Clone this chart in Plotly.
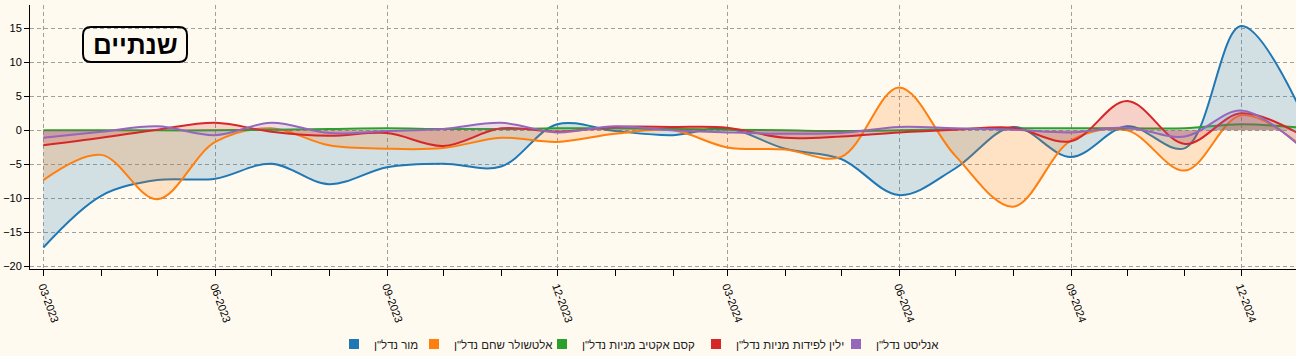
import plotly.graph_objects as go

# ---- data ----
dates = ["2023-03-01", "2023-04-01", "2023-05-01", "2023-06-01", "2023-07-01", "2023-08-01",
         "2023-09-01", "2023-10-01", "2023-11-01", "2023-12-01", "2024-01-01", "2024-02-01",
         "2024-03-01", "2024-04-01", "2024-05-01", "2024-06-01", "2024-07-01", "2024-08-01",
         "2024-09-01", "2024-10-01", "2024-11-01", "2024-12-01", "2025-01-01"]

names = ['מור נדל"ן', 'אלטשולר שחם נדל"ן', 'קסם אקטיב מניות נדל"ן', 'ילין לפידות מניות נדל"ן', 'אנליסט נדל"ן']

mor = [-17.2, -9.6, -7.3, -7.1, -4.9, -7.9, -5.4, -4.9, -5.3, 0.9, -0.1, -0.7,
       0.3, -2.7, -4.2, -9.5, -5.6, 0.5, -3.9, 0.6, -2.6, 15.3, 3.5]
altshuler = [-7.3, -3.6, -10.1, -1.7, 0.3, -2.2, -2.7, -2.6, -1.1, -1.7, -0.5, 0.0,
             -2.5, -2.8, -3.9, 6.3, -3.7, -11.2, -1.5, 0.0, -5.9, 2.2, -2.0]
kesem = [0.0, 0.0, 0.0, 0.0, 0.1, 0.2, 0.3, 0.2, 0.2, 0.3, 0.3, 0.2,
         0.1, 0.0, -0.1, 0.0, 0.2, 0.3, 0.3, 0.3, 0.3, 0.9, 0.4]
yelin = [-2.2, -1.1, 0.1, 1.1, -0.2, -0.8, -0.4, -2.3, 0.3, -0.2, 0.5, 0.5,
         0.4, -1.1, -0.9, -0.3, 0.1, 0.4, -1.6, 4.3, -2.0, 2.5, -0.5]
analyst = [-1.1, -0.2, 0.6, -0.7, 1.1, -0.4, -0.1, 0.2, 1.1, -0.3, 0.6, 0.0,
           -0.3, -0.5, -0.4, 0.5, 0.3, 0.1, -0.3, 0.4, -0.9, 2.9, -2.2]

series = [mor, altshuler, kesem, yelin, analyst]
colors = ["#1f77b4", "#ff7f0e", "#2ca02c", "#d62728", "#9467bd"]
fills = ["rgba(31,119,180,0.2)", "rgba(255,127,14,0.2)", "rgba(44,160,44,0.2)",
         "rgba(214,39,40,0.2)", "rgba(148,103,189,0.2)"]

title_text = "שנתיים"
FONT = "Liberation Sans, Arial, sans-serif"
BG = "#FFFAF0"

W, H = 1296, 356
ML, MR, MT, MB = 30, 0, 5, 87
PW = W - ML - MR
PH = H - MT - MB

fig = go.Figure()
for vals, name, c, fc in zip(series, names, colors, fills):
    fig.add_trace(go.Scatter(
        x=dates, y=vals, mode="lines", name=name,
        line=dict(color=c, width=2, shape="spline", smoothing=1),
        fill="tozeroy", fillcolor=fc, showlegend=False, hoverinfo="skip"))

# legend entries (each in its own legend for exact placement)
legend_square_center = [354, 434, 562, 716, 856]
for i, (name, c) in enumerate(zip(names, colors)):
    key = "legend" if i == 0 else f"legend{i+1}"
    fig.add_trace(go.Scatter(
        x=[None], y=[None], mode="markers", name=name,
        marker=dict(symbol="square", size=10, color=c),
        showlegend=True, legend=key))
    fig.update_layout({key: dict(
        xref="container", yref="container",
        x=(legend_square_center[i] - 20) / W, xanchor="left",
        y=1 - 344 / H, yanchor="middle",
        orientation="h", bgcolor="rgba(0,0,0,0)", borderwidth=0,
        font=dict(family=FONT, size=11.5, color="#222"),
        itemclick=False, itemdoubleclick=False)})

grid = dict(showgrid=True, gridcolor="#a0a0a0", gridwidth=1, griddash="4px,3px")

fig.update_layout(
    width=W, height=H,
    margin=dict(l=ML, r=MR, t=MT, b=MB, pad=0, autoexpand=False),
    paper_bgcolor=BG, plot_bgcolor=BG,
    font=dict(family=FONT, size=11, color="#000"),
    xaxis=dict(
        type="date", range=["2023-02-21 21:00", "2024-12-30 10:00"], automargin=False,
        tick0="2023-03-01", dtick="M3", tickformat="%m-%Y", tickangle=70,
        ticks="outside", ticklen=6, tickcolor="#000",
        minor=dict(dtick="M1", ticks="outside", ticklen=6, tickcolor="#000", showgrid=False),
        showline=True, linecolor="#000", linewidth=1, zeroline=False,
        tickfont=dict(family=FONT, size=11, color="#000"),
        **grid),
    yaxis=dict(
        range=[-20.35, 18.4], tick0=0, dtick=5, automargin=False,
        ticks="outside", ticklen=5, tickcolor="#000",
        showline=True, linecolor="#000", linewidth=1, zeroline=False,
        tickfont=dict(family=FONT, size=11, color="#000"),
        **grid),
    hovermode=False,
)

# title box with rounded corners
fig.add_shape(
    type="path", xref="paper", yref="paper", xsizemode="pixel", ysizemode="pixel",
    xanchor=0, yanchor=1,
    path="M 61,-22 L 149,-22 Q 157,-22 157,-30 L 157,-49 Q 157,-57 149,-57 "
         "L 61,-57 Q 53,-57 53,-49 L 53,-30 Q 53,-22 61,-22 Z",
    line=dict(color="#000", width=2), fillcolor="rgba(0,0,0,0)", layer="above")
fig.add_annotation(
    text=f"<b>{title_text}</b>", xref="paper", yref="paper",
    x=(135 - ML) / PW, y=1 - (44.5 - MT) / PH, xanchor="center", yanchor="middle",
    showarrow=False, font=dict(family=FONT, size=26, color="#000"))

fig.write_html(
    "out.html",
    config={"displayModeBar": False, "staticPlot": True},
    post_script="document.body.style.margin='0';document.body.style.background='" + BG + "';",
)
